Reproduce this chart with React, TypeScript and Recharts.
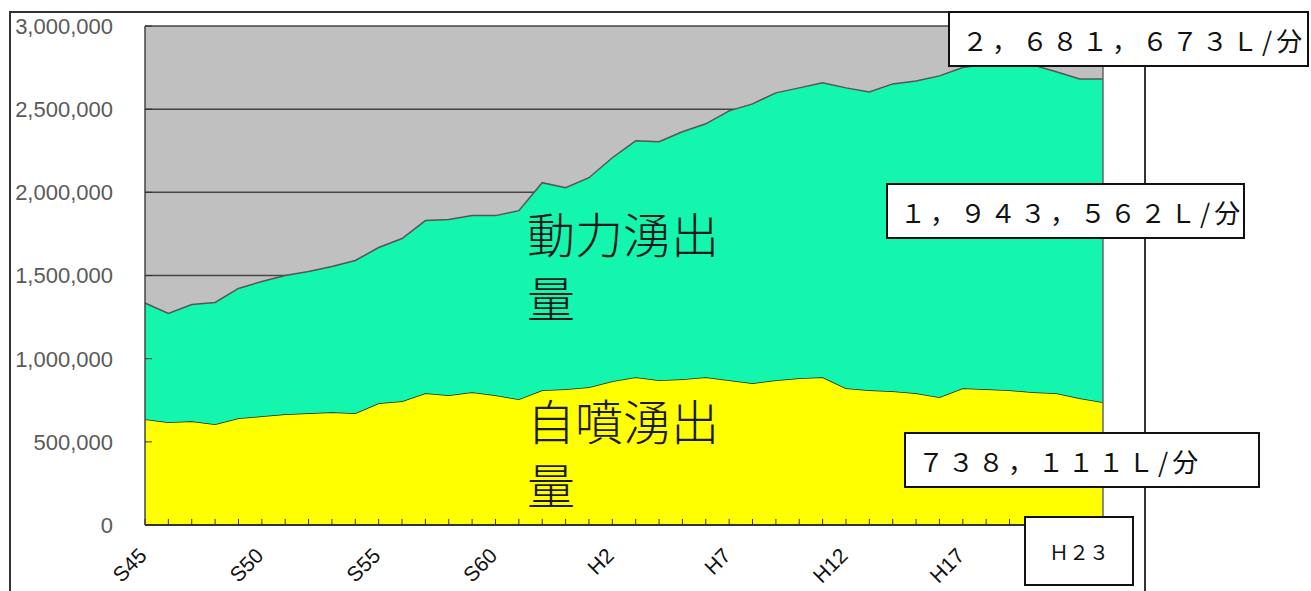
import React from 'react';
import { AreaChart, Area, XAxis, YAxis, CartesianGrid, ReferenceLine } from 'recharts';

// 年度（昭和45年〜平成23年）
const years = [
  'S45', 'S46', 'S47', 'S48', 'S49', 'S50', 'S51', 'S52', 'S53', 'S54',
  'S55', 'S56', 'S57', 'S58', 'S59', 'S60', 'S61', 'S62', 'S63',
  'H1', 'H2', 'H3', 'H4', 'H5', 'H6', 'H7', 'H8', 'H9', 'H10',
  'H11', 'H12', 'H13', 'H14', 'H15', 'H16', 'H17', 'H18', 'H19', 'H20',
  'H21', 'H22', 'H23',
];

// 自噴湧出量 (L/分)
const jifun = [
  636000, 618000, 624000, 606000, 642000, 654000, 666000, 672000, 678000, 672000,
  732000, 744000, 792000, 780000, 798000, 780000, 756000, 810000, 816000,
  828000, 864000, 888000, 870000, 876000, 888000, 870000, 852000, 870000, 882000,
  888000, 822000, 810000, 804000, 792000, 768000, 822000, 816000, 810000, 798000,
  792000, 762000, 738111,
];

// 動力湧出量 (L/分)
const douryoku = [
  699000, 654000, 702000, 732000, 780000, 810000, 834000, 852000, 876000, 918000,
  936000, 978000, 1038000, 1056000, 1062000, 1080000, 1134000, 1248000, 1212000,
  1260000, 1344000, 1422000, 1434000, 1488000, 1524000, 1620000, 1680000, 1728000, 1746000,
  1770000, 1806000, 1794000, 1848000, 1878000, 1932000, 1928000, 1954000, 1965000, 1967000,
  1933000, 1920000, 1943562,
];

const yTicks = [0, 500000, 1000000, 1500000, 2000000, 2500000, 3000000];
const xLabels = ['S45', 'S50', 'S55', 'S60', 'H2', 'H7', 'H12', 'H17'];

const data = years.map((year, i) => ({ year, jifun: jifun[i], douryoku: douryoku[i] }));

const XTick = (props: any) => {
  const { x, y, payload } = props;
  const show = xLabels.includes(payload.value);
  const ax = x + 3;
  const ay = y + 32;
  return (
    <g>
      <line x1={x} y1={y} x2={x} y2={y - 6} stroke="#333" strokeWidth={1} />
      {show && (
        <text
          x={ax}
          y={ay}
          textAnchor="end"
          transform={`rotate(-45, ${ax}, ${ay})`}
          fill="#111"
          fontSize={21}
          fontFamily="'Liberation Sans', Arial, sans-serif"
        >
          {payload.value}
        </text>
      )}
    </g>
  );
};

const YTick = (props: any) => {
  const { x, y, payload } = props;
  return (
    <g>
      <line x1={x} y1={y} x2={x + 7} y2={y} stroke="#333" strokeWidth={1} />
      <text
        x={x - 32}
        y={y}
        dy="0.36em"
        textAnchor="end"
        fill="#5a5a5a"
        fontSize={22}
        fontFamily="'Liberation Sans', Arial, sans-serif"
      >
        {payload.value.toLocaleString('en-US')}
      </text>
    </g>
  );
};

const boxStyle: React.CSSProperties = {
  position: 'absolute',
  boxSizing: 'border-box',
  background: '#fff',
  border: '2px solid #111',
  fontFamily: "'Noto Sans CJK JP', sans-serif",
  color: '#111',
  fontSize: 26,
  letterSpacing: 4,
  whiteSpace: 'nowrap',
  display: 'flex',
  alignItems: 'center',
  paddingLeft: 12,
};

const bigLabel: React.CSSProperties = {
  position: 'absolute',
  left: 527,
  fontFamily: "'Noto Sans CJK JP', sans-serif",
  fontWeight: 300,
  fontSize: 48,
  lineHeight: '64px',
  color: '#1a1a1a',
  whiteSpace: 'pre',
};

const App: React.FC = () => {
  return (
    <div style={{ position: 'absolute', left: 0, top: 0, width: 1311, height: 591, background: '#fff', overflow: 'hidden' }}>
      <AreaChart width={1311} height={591} data={data} margin={{ top: 26, right: 208, left: 5, bottom: 6 }}>
        <CartesianGrid vertical={false} fill="#c0c0c0" fillOpacity={1} stroke="#444" strokeWidth={1.5} />
        <XAxis
          dataKey="year"
          interval={0}
          tickSize={0}
          tickMargin={0}
          tickLine={false}
          height={60}
          axisLine={{ stroke: '#333', strokeWidth: 2 }}
          tick={XTick}
        />
        <YAxis
          type="number"
          domain={[0, 3000000]}
          ticks={yTicks}
          interval={0}
          width={140}
          tickSize={0}
          tickMargin={0}
          tickLine={false}
          axisLine={{ stroke: '#444', strokeWidth: 1.5 }}
          tick={YTick}
        />
        <Area
          type="linear"
          dataKey="jifun"
          stackId="1"
          fill="#ffff00"
          fillOpacity={1}
          stroke="#222"
          strokeWidth={1.5}
          isAnimationActive={false}
        />
        <Area
          type="linear"
          dataKey="douryoku"
          stackId="1"
          fill="#14f5ae"
          fillOpacity={1}
          stroke="#555"
          strokeWidth={1.5}
          isAnimationActive={false}
        />
        <ReferenceLine x="H23" stroke="#666" strokeWidth={1.5} />
      </AreaChart>

      <div
        style={{
          position: 'absolute',
          left: 9,
          top: 11,
          width: 1137,
          height: 620,
          boxSizing: 'border-box',
          borderLeft: '2px solid #333',
          borderTop: '2px solid #333',
          borderRight: '2px solid #333',
        }}
      />

      <div style={{ ...bigLabel, top: 200 }}>{'動力湧出\n量'}</div>
      <div style={{ ...bigLabel, top: 387 }}>{'自噴湧出\n量'}</div>

      <div style={{ ...boxStyle, left: 948, top: 11, width: 361, height: 56 }}>２，６８１，６７３Ｌ/分</div>
      <div style={{ ...boxStyle, left: 886, top: 183, width: 359, height: 56 }}>１，９４３，５６２Ｌ/分</div>
      <div style={{ ...boxStyle, left: 904, top: 432, width: 356, height: 56 }}>７３８，１１１Ｌ/分</div>
      <div
        style={{
          ...boxStyle,
          left: 1024,
          top: 516,
          width: 110,
          height: 70,
          fontSize: 20,
          letterSpacing: 0,
          paddingLeft: 0,
          justifyContent: 'center',
        }}
      >
        Ｈ２３
      </div>
    </div>
  );
};

export default App;
